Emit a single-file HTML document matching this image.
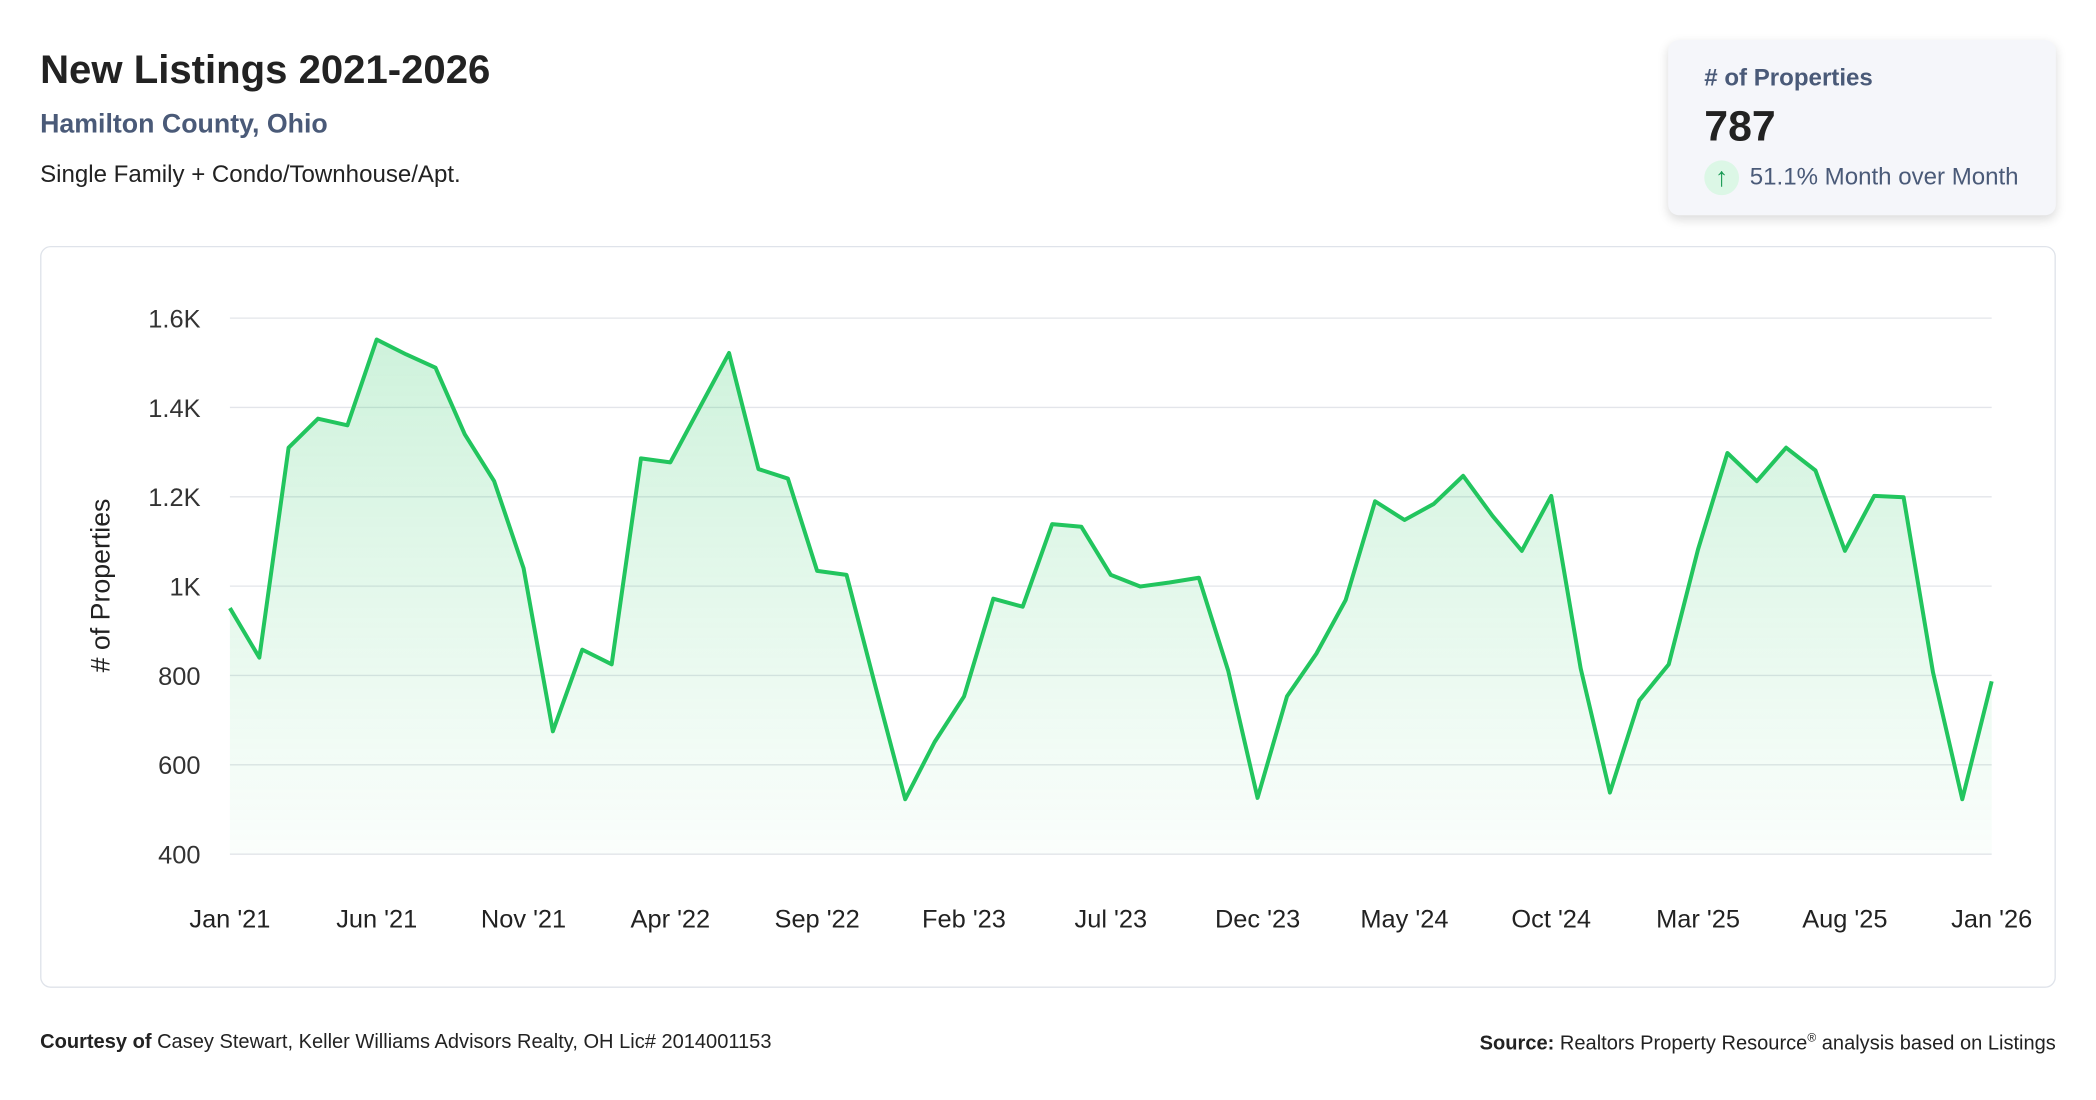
<!DOCTYPE html>
<html><head><meta charset="utf-8"><style>
html,body{margin:0;padding:0;background:#fff;width:2096px;height:1100px;overflow:hidden}
#wrap{width:1560px;height:819px;transform:scale(1.3367);transform-origin:0 0;position:relative;font-family:"Liberation Sans",sans-serif;color:#222}
.abs{position:absolute;white-space:nowrap}
</style></head><body>
<div id="wrap">
<div class="abs" style="left:30px;top:36px;font-size:30px;font-weight:bold;color:#222">New Listings 2021-2026</div>
<div class="abs" style="left:30px;top:82px;font-size:20px;font-weight:bold;color:#4a5a78">Hamilton County, Ohio</div>
<div class="abs" style="left:30px;top:120px;font-size:18px;color:#222">Single Family + Condo/Townhouse/Apt.</div>
<div class="abs" style="left:1248px;top:30px;width:290px;height:131px;background:#f5f6fa;border-radius:8px;box-shadow:0 3px 8px rgba(0,0,0,0.15)">
  <div class="abs" style="left:27px;top:18px;font-size:18px;font-weight:bold;color:#4a5a78"># of Properties</div>
  <div class="abs" style="left:27px;top:46px;font-size:32px;font-weight:bold;color:#222">787</div>
  <div class="abs" style="left:27px;top:90px;width:26px;height:26px;border-radius:13px;background:#dcf7e6;color:#1a9a55;font-size:20px;text-align:center;line-height:26px;font-weight:bold">↑</div>
  <div class="abs" style="left:61px;top:92px;font-size:18px;color:#4a5a78">51.1% Month over Month</div>
</div>
<div class="abs" style="left:30px;top:184px;width:1506px;height:553px;border:1px solid #dfe3ea;border-radius:8px"></div>
<svg class="abs" style="left:0;top:0" width="1560" height="819">
<defs><linearGradient id="g" x1="0" y1="0" x2="0" y2="1"><stop offset="0" stop-color="#22c55e" stop-opacity="0.22"/><stop offset="1" stop-color="#22c55e" stop-opacity="0.02"/></linearGradient></defs>
<g id="grid"></g><g id="area"></g><g id="xl"></g>
<text transform="translate(82,438) rotate(-90)" text-anchor="middle" font-size="20" fill="#222" font-family="Liberation Sans, sans-serif"># of Properties</text>
</svg>
<div class="abs" style="left:30px;top:771px;font-size:15px;color:#222"><b>Courtesy of</b> Casey Stewart, Keller Williams Advisors Realty, OH Lic# 2014001153</div>
<div class="abs" style="right:22px;top:771px;font-size:15px;color:#222"><b>Source:</b> Realtors Property Resource<sup style="font-size:9px">®</sup> analysis based on Listings</div>
</div>
<script>
const values=[951,840,1310,1375,1360,1552,1519,1489,1340,1235,1040,675,858,825,1286,1277,1400,1522,1262,1241,1034,1025,771,523,651,753,972,954,1139,1133,1025,999,1008,1019,810,526,753,849,969,1190,1148,1184,1247,1157,1079,1202,816,538,744,825,1082,1298,1235,1310,1259,1079,1202,1199,807,523,787];
const yTicks=[400,600,800,1000,1200,1400,1600];
const yTickLabels=["400","600","800","1K","1.2K","1.4K","1.6K"];
const xLabels=["Jan '21","Jun '21","Nov '21","Apr '22","Sep '22","Feb '23","Jul '23","Dec '23","May '24","Oct '24","Mar '25","Aug '25","Jan '26"];
const xLabelIdx=[0,5,10,15,20,25,30,35,40,45,50,55,60];
const NS="http://www.w3.org/2000/svg";
const X0=172,X1=1490,Y0=639,Y1=238,vmin=400,vmax=1600;
const x=i=>X0+(X1-X0)*i/(values.length-1);
const y=v=>Y0-(Y0-Y1)*(v-vmin)/(vmax-vmin);
function mk(t,a,p){const e=document.createElementNS(NS,t);for(const k in a)e.setAttribute(k,a[k]);p.appendChild(e);return e;}
const grid=document.getElementById('grid'),area=document.getElementById('area'),xl=document.getElementById('xl');
yTicks.forEach((v,i)=>{
 const l=mk('line',{x1:X0,x2:X1,y1:y(v),y2:y(v),stroke:'#e3e5ea','stroke-width':1},grid);
 
 
 const t=mk('text',{x:150,y:y(v)+7,'text-anchor':'end','font-size':19,fill:'#333','font-family':'Liberation Sans, sans-serif'},grid);
 t.textContent=yTickLabels[i];
 
 
});
const pts=values.map((v,i)=>x(i).toFixed(1)+','+y(v).toFixed(1));
const a=mk('path',{d:'M'+pts.join('L')+'L'+x(values.length-1)+','+Y0+'L'+X0+','+Y0+'Z',fill:'url(#g)'},area);


const ln=mk('path',{d:'M'+pts.join('L'),fill:'none',stroke:'#22c55e','stroke-width':3,'stroke-linejoin':'round'},area);


xLabels.forEach((s,i)=>{
 const t=mk('text',{x:x(xLabelIdx[i]),y:694,'text-anchor':'middle','font-size':19,fill:'#222','font-family':'Liberation Sans, sans-serif'},xl);
 t.textContent=s;
 
 
});
</script>
</body></html>
